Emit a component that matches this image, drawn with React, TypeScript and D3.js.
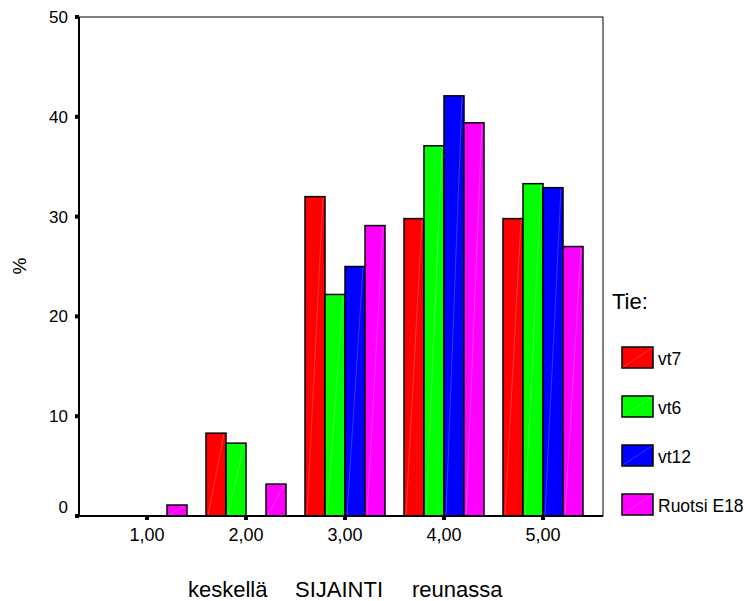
import React from "react";
import * as d3 from "d3";

const categories = ["1,00", "2,00", "3,00", "4,00", "5,00"];
const seriesNames = ["vt7", "vt6", "vt12", "Ruotsi E18"];
const seriesColors = ["#ff0000", "#00ff00", "#0000ff", "#ff00ff"];
const vt7 = [0, 8.3, 32.0, 29.8, 29.8];
const vt6 = [0, 7.3, 22.2, 37.1, 33.3];
const vt12 = [0, 0, 25.0, 42.1, 32.9];
const ruotsi = [1.1, 3.2, 29.1, 39.4, 27.0];
const yTicks = [0, 10, 20, 30, 40, 50];
const xTitleWords = ["keskellä", "SIJAINTI", "reunassa"];

const values = [vt7, vt6, vt12, ruotsi];

export default function App() {
  const W = 748, H = 601;
  const left = 79, right = 603, top = 17, bottom = 516;
  const font = "Arial, 'Liberation Sans', sans-serif";
  const y = d3.scaleLinear().domain([0, 50]).range([bottom, top]);
  const xc = d3.scalePoint<string>().domain(categories).range([147, 543]);
  const barW = 20;
  const inner = d3.scaleBand<number>().domain([0, 1, 2, 3]).range([-2 * barW, 2 * barW]);
  const titleX = [188, 295, 412];

  return (
    <svg width={W} height={H} style={{ position: "absolute", left: 0, top: 0, background: "#fff" }} fontFamily={font}>
      <rect x={0} y={0} width={W} height={H} fill="#fff" />
      {values.map((vals, si) =>
        vals.map((v, ci) => {
          const x0 = (xc(categories[ci]) as number) + (inner(si) as number);
          const yt = y(v);
          return (
            <g key={`${si}-${ci}`}>
              <rect x={x0} y={yt} width={barW} height={bottom - yt} fill={seriesColors[si]} stroke="#000" strokeWidth={1.5} />
              {v > 0 && (
                <line x1={x0 + 2} y1={bottom - 1} x2={x0 + barW - 2} y2={yt + 1} stroke="#fff" strokeOpacity={0.35} strokeWidth={0.6} />
              )}
            </g>
          );
        })
      )}
      <rect x={left} y={top} width={right - left} height={bottom - top} fill="none" stroke="#000" strokeWidth={1} />
      <line x1={left} y1={top} x2={left} y2={bottom} stroke="#000" strokeWidth={2} />
      <line x1={left} y1={bottom} x2={right} y2={bottom} stroke="#000" strokeWidth={2} />
      {yTicks.map((t) => (
        <g key={t}>
          <rect x={left - 4} y={y(t) - 2} width={4} height={4} fill="#000" />
          <text x={68} y={y(t) + 6 - (t === 0 ? 9 : 0)} textAnchor="end" fontSize={17} fill="#000">{t}</text>
        </g>
      ))}
      {categories.map((c) => (
        <g key={c}>
          <rect x={(xc(c) as number) - 2} y={bottom} width={4} height={4} fill="#000" />
          <text x={xc(c) as number} y={541} textAnchor="middle" fontSize={18} fill="#000">{c}</text>
        </g>
      ))}
      <text transform={`translate(26,266) rotate(-90)`} textAnchor="middle" fontSize={19} fill="#000">%</text>
      {xTitleWords.map((w, i) => (
        <text key={w} x={titleX[i]} y={597} fontSize={22} fill="#000">{w}</text>
      ))}
      <text x={612} y={309} fontSize={22} fill="#000">Tie:</text>
      {seriesNames.map((n, i) => {
        const ly = 347 + i * 49;
        return (
          <g key={n}>
            <rect x={622} y={ly} width={31} height={21} fill={seriesColors[i]} stroke="#000" strokeWidth={1.5} />
            <line x1={623} y1={ly + 20} x2={652} y2={ly + 1} stroke="#fff" strokeOpacity={0.35} strokeWidth={0.6} />
            <text x={658} y={ly + 18} fontSize={17.5} fill="#000">{n}</text>
          </g>
        );
      })}
    </svg>
  );
}
